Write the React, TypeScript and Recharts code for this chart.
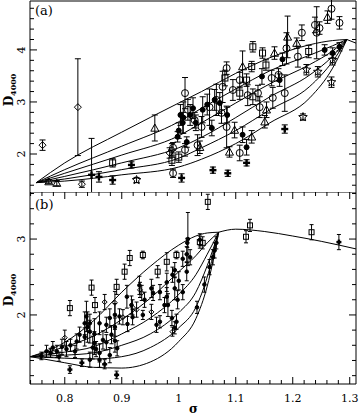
import { ComposedChart, XAxis, YAxis, Line, Scatter, ErrorBar, ReferenceLine } from 'recharts'

const X_DOMAIN: [number, number] = [0.739, 1.311]
const A_DOMAIN: [number, number] = [1.27, 4.94]
const B_DOMAIN: [number, number] = [1.09, 3.62]

const xMajor = [0.8, 0.9, 1, 1.1, 1.2, 1.3]
const aYMajor = [2, 3, 4]
const bYMajor = [2, 3]

// minor tick positions (axis decoration only)
const steps = (from: number, to: number, step: number) => {
  const out: number[] = []
  for (let v = from; v <= to + 1e-9; v += step) out.push(Math.round(v * 100) / 100)
  return out
}
const xTicks = steps(0.74, 1.3, 0.02)
const aYTicks = steps(1.4, 4.8, 0.2)
const bYTicks = steps(1.2, 3.6, 0.2)

// panel (a) model curves
const aCurveX = [0.75, 0.8, 0.9, 1.0, 1.04, 1.1, 1.16, 1.23, 1.27, 1.295]
const aCurve1 = [1.45, 1.83, 2.42, 2.98, 3.2, 3.55, 3.85, 4.1, 4.18, 4.2]
const aCurve2 = [1.45, 1.7, 2.15, 2.62, 2.88, 3.25, 3.6, 3.9, 4.08, 4.2]
const aCurve3 = [1.45, 1.63, 1.98, 2.35, 2.6, 2.98, 3.35, 3.72, 3.98, 4.2]
const aCurve4 = [1.45, 1.57, 1.83, 2.12, 2.32, 2.7, 3.1, 3.52, 3.88, 4.2]
const aCurve5 = [1.45, 1.52, 1.7, 1.92, 2.12, 2.45, 2.85, 3.3, 3.78, 4.2]
const aCurve6 = [1.45, 1.48, 1.6, 1.75, 1.9, 2.2, 2.6, 3.08, 3.65, 4.2]
const aTailX = [1.295, 1.311]
const aTailY = [4.2, 4.13]

// panel (b) model curves
const bCurveX = [0.74, 0.8, 0.85, 0.9, 0.95, 1.0, 1.03, 1.05, 1.07]
const bCurve1 = [1.45, 1.64, 1.92, 2.3, 2.64, 2.92, 3.04, 3.08, 3.09]
const bCurve2 = [1.45, 1.58, 1.72, 1.94, 2.22, 2.57, 2.78, 2.95, 3.09]
const bCurve3 = [1.45, 1.51, 1.58, 1.75, 1.96, 2.27, 2.53, 2.8, 3.09]
const bCurve4 = [1.45, 1.47, 1.5, 1.6, 1.75, 2.03, 2.3, 2.65, 3.09]
const bCurve5 = [1.45, 1.43, 1.42, 1.45, 1.57, 1.83, 2.1, 2.5, 3.09]
const bCurve6 = [1.45, 1.37, 1.31, 1.3, 1.38, 1.65, 1.95, 2.38, 3.09]
const bTailX = [1.07, 1.1, 1.15, 1.2, 1.25, 1.311]
const bTailY = [3.09, 3.13, 3.1, 3.04, 2.97, 2.87]

// panel (a) galaxies: [sigma, D4000, error]
const aDiamond = [
  [0.761, 2.17, 0.1], [0.823, 2.9, 0.93], [0.83, 1.42, 0.06], [0.984, 2.02, 0.1], [0.988, 2.08, 0.12],
]
const aTriangle = [
  [0.786, 1.44, 0.05], [0.772, 1.47, 0.04], [0.958, 2.5, 0.25], [1.191, 4.25, 0.4], [1.207, 4.13, 0.1],
  [1.168, 3.94, 0.12], [1.112, 3.68, 0.3], [1.151, 2.62, 0.12], [1.154, 2.85, 0.15], [1.098, 2.46, 0.15],
  [1.128, 2.33, 0.12], [1.037, 2.13, 0.12], [1.089, 2.04, 0.1], [1.261, 4.63, 0.12],
]
const aSquare = [
  [0.884, 1.83, 0.08], [0.988, 1.88, 0.1], [1.228, 3.97, 0.12], [1.13, 4.06, 0.1], [1.147, 3.94, 0.1],
  [1.128, 3.68, 0.1], [1.153, 3.71, 0.1], [1.13, 3.1, 0.15], [1.107, 3.17, 0.12], [1.119, 3.42, 0.12],
  [1.081, 3.46, 0.15], [1.0, 1.94, 0.1],
]
const aCircle = [
  [0.99, 1.63, 0.08], [0.99, 2.12, 0.1], [1.268, 4.79, 0.2], [1.282, 4.52, 0.12], [1.239, 4.48, 0.15],
  [1.247, 4.42, 0.12], [1.242, 4.33, 0.5], [1.216, 4.33, 0.15], [1.189, 4.03, 0.3], [1.209, 3.87, 0.2],
  [1.084, 3.65, 0.12], [1.163, 3.46, 0.15], [1.175, 3.52, 0.12], [1.165, 3.08, 0.2], [1.186, 3.17, 0.35],
  [1.142, 2.9, 0.2], [1.139, 3.17, 0.15], [1.121, 3.13, 0.2], [1.107, 3.42, 0.15], [1.095, 3.23, 0.2],
  [1.077, 3.29, 0.3], [1.028, 2.65, 0.15], [1.084, 2.52, 0.4], [1.011, 2.08, 0.12], [1.107, 2.02, 0.15],
  [1.011, 3.17, 0.3], [1.04, 2.52, 0.2], [1.066, 3.04, 0.3], [1.075, 2.79, 0.2], [1.033, 2.17, 0.2],
  [1.016, 2.85, 0.2], [1.054, 2.9, 0.35],
]
const aStar = [
  [0.926, 1.5, 0.05], [1.224, 3.62, 0.1], [1.244, 3.58, 0.1], [1.268, 3.38, 0.1], [1.218, 2.71, 0.06],
  [1.27, 3.81, 0.1],
]
const aCross = [
  [0.847, 1.6, 0.7], [0.86, 1.56, 0.1], [0.917, 1.79, 0.06], [0.884, 1.5, 0.08], [1.119, 1.83, 0.06],
  [1.06, 1.69, 0.06], [1.086, 1.63, 0.06], [1.186, 2.48, 0.08], [1.005, 1.54, 0.08],
]
const aFilled = [
  [1.282, 4.06, 0.08], [1.27, 3.94, 0.1], [1.256, 4.0, 0.1], [1.182, 3.82, 0.12], [1.146, 3.49, 0.15],
  [1.177, 3.42, 0.12], [1.063, 3.04, 0.2], [1.072, 2.98, 0.2], [1.042, 2.85, 0.25], [1.025, 2.88, 0.2],
  [1.007, 2.6, 0.2], [1.058, 2.5, 0.15], [1.112, 2.37, 0.15], [1.014, 2.23, 0.1], [1.119, 2.13, 0.15],
  [1.02, 2.75, 0.2], [1.03, 2.6, 0.15], [1.008, 2.7, 0.3], [1.05, 2.95, 0.2], [1.085, 2.75, 0.15],
  [1.0, 2.45, 0.15], [1.003, 2.75, 0.2], [0.998, 2.33, 0.1],
]

// panel (b) galaxies
const bSquare = [
  [0.809, 2.09, 0.1], [0.847, 2.36, 0.1], [0.891, 2.37, 0.1], [0.905, 2.57, 0.1], [0.914, 2.75, 0.1],
  [0.937, 2.79, 0.05], [0.963, 2.57, 0.08], [0.979, 2.7, 0.12], [0.996, 2.79, 0.05], [1.051, 3.49, 0.1],
  [1.118, 3.03, 0.08], [1.125, 3.18, 0.08], [1.233, 3.09, 0.1], [1.037, 2.96, 0.08], [1.042, 2.95, 0.08],
  [0.853, 2.13, 0.1],
]
const bDiamond = [
  [0.87, 2.17, 0.1], [0.926, 2.07, 0.1], [0.989, 1.78, 0.06], [0.8, 1.7, 0.1], [0.888, 2.16, 0.15],
  [0.935, 2.29, 0.1], [0.952, 2.04, 0.1], [0.902, 1.97, 0.1], [0.919, 2.1, 0.1], [0.932, 2.33, 0.1],
]
const bFilled = [
  [0.909, 2.24, 0.15], [0.917, 2.13, 0.12], [0.931, 2.39, 0.12], [0.94, 2.2, 0.1], [0.937, 2.0, 0.06],
  [0.952, 2.35, 0.12], [0.955, 2.29, 0.1], [0.967, 1.91, 0.08], [0.961, 1.87, 0.1], [0.979, 2.24, 0.12],
  [0.981, 2.13, 0.15], [0.988, 1.96, 0.1], [0.993, 1.83, 0.08], [0.993, 2.35, 0.15], [0.998, 2.2, 0.12],
  [0.993, 2.59, 0.1], [0.888, 2.0, 0.15], [0.896, 1.98, 0.1], [0.879, 1.96, 0.12], [0.873, 1.87, 0.1],
  [0.861, 1.89, 0.15], [0.844, 1.89, 0.12], [0.844, 1.78, 0.15], [0.835, 1.71, 0.12], [0.826, 1.74, 0.1],
  [0.821, 1.65, 0.1], [0.795, 1.58, 0.1], [0.786, 1.52, 0.08], [0.779, 1.57, 0.08], [0.768, 1.52, 0.08],
  [0.759, 1.46, 0.05], [0.818, 1.52, 0.08], [0.844, 1.41, 0.1], [0.849, 1.57, 0.15], [0.861, 1.5, 0.12],
  [0.861, 1.41, 0.1], [0.867, 1.67, 0.12], [0.873, 1.64, 0.1], [0.882, 1.74, 0.12], [0.888, 1.84, 0.12],
  [0.919, 1.97, 0.1], [0.835, 1.89, 0.15], [0.838, 1.98, 0.2], [0.84, 1.84, 0.2], [0.852, 1.63, 0.15],
  [0.852, 1.75, 0.2], [0.855, 1.55, 0.1], [0.879, 1.47, 0.1], [0.888, 1.66, 0.15], [0.892, 1.56, 0.1],
  [0.81, 1.6, 0.08], [0.803, 1.55, 0.1], [0.775, 1.5, 0.06], [0.79, 1.45, 0.06], [1.016, 3.0, 0.35],
  [1.007, 2.74, 0.1], [1.014, 2.8, 0.1], [1.02, 2.76, 0.1], [1.014, 2.57, 0.12], [1.007, 2.3, 0.1],
  [1.037, 2.99, 0.08], [0.979, 2.43, 0.12], [0.989, 2.53, 0.1], [0.975, 2.13, 0.1], [1.032, 2.1, 0.08],
  [1.054, 2.63, 0.1], [1.06, 2.76, 0.1], [1.063, 2.85, 0.1], [1.066, 2.95, 0.08], [1.0, 2.45, 0.12],
  [0.967, 2.3, 0.1], [0.91, 1.88, 0.1], [0.996, 1.91, 0.1], [1.015, 2.95, 0.06], [1.045, 2.4, 0.1],
]
const bCross = [
  [0.809, 1.28, 0.05], [0.891, 1.21, 0.05], [0.83, 1.37, 0.05], [1.281, 2.96, 0.1], [0.87, 1.35, 0.06],
]

const FONT = "'DejaVu Serif', 'Liberation Serif', serif"
const PLOT_W = 326
const A_H = 191
const B_H = 192

const toPts = (rows: number[][]) => rows.map(([x, y, e]) => ({ x, y, e }))
const toCurve = (xs: number[], ys: number[]) => xs.map((x, i) => ({ x, y: ys[i] }))
const isIn = (v: number, list: number[]) => list.some((m) => Math.abs(m - v) < 1e-6)

function XTick(props: any) {
  const { x, y, payload, plotH, showLabel } = props
  const v = payload.value
  const major = isIn(v, xMajor)
  const len = major ? 7 : 4
  return (
    <g>
      <line x1={x} y1={y} x2={x} y2={y - len} stroke="#000" />
      <line x1={x} y1={y - plotH} x2={x} y2={y - plotH + len} stroke="#000" />
      {showLabel && major && (
        <text x={x} y={y + 18} textAnchor="middle" fontSize={11} fontFamily={FONT} fill="#000">
          {String(Number(v.toFixed(1)))}
        </text>
      )}
    </g>
  )
}

function YTick(props: any) {
  const { x, y, payload, majors } = props
  const v = payload.value
  const major = isIn(v, majors)
  const len = major ? 7 : 4
  const lx = x - 8
  return (
    <g>
      <line x1={x} y1={y} x2={x + len} y2={y} stroke="#000" />
      <line x1={x + PLOT_W} y1={y} x2={x + PLOT_W - len} y2={y} stroke="#000" />
      {major && (
        <text
          x={lx}
          y={y}
          textAnchor="middle"
          dominantBaseline="central"
          fontSize={11}
          fontFamily={FONT}
          fill="#000"
          transform={`rotate(-90 ${lx} ${y})`}
        >
          {String(v)}
        </text>
      )}
    </g>
  )
}

function Sym({ cx, cy, kind, s }: { cx: number; cy: number; kind: string; s: number }) {
  if (cx == null || cy == null) return <g />
  switch (kind) {
    case 'square':
      return <rect x={cx - s} y={cy - s} width={2 * s} height={2 * s} fill="none" stroke="#000" />
    case 'diamond':
      return (
        <polygon points={`${cx},${cy - s} ${cx + s},${cy} ${cx},${cy + s} ${cx - s},${cy}`} fill="none" stroke="#000" />
      )
    case 'triangle':
      return (
        <polygon points={`${cx},${cy - s} ${cx + s},${cy + s * 0.8} ${cx - s},${cy + s * 0.8}`} fill="none" stroke="#000" />
      )
    case 'star': {
      const pts: string[] = []
      for (let i = 0; i < 10; i++) {
        const r = i % 2 === 0 ? s : s * 0.45
        const a = -Math.PI / 2 + (i * Math.PI) / 5
        pts.push(`${cx + r * Math.cos(a)},${cy + r * Math.sin(a)}`)
      }
      return <polygon points={pts.join(' ')} fill="none" stroke="#000" />
    }
    case 'cross':
      return (
        <g fill="#000">
          <rect x={cx - s} y={cy - 1.2} width={2 * s} height={2.4} />
          <rect x={cx - 1.2} y={cy - s} width={2.4} height={2 * s} />
        </g>
      )
    case 'filled':
      return <circle cx={cx} cy={cy} r={s} fill="#000" stroke="#000" />
    default:
      return <circle cx={cx} cy={cy} r={s} fill="none" stroke="#000" />
  }
}

const series = (name: string, rows: number[][], kind: string, s: number, cap: number) => (
  <Scatter
    key={name}
    name={name}
    data={toPts(rows)}
    dataKey="y"
    isAnimationActive={false}
    shape={(p: any) => <Sym cx={p.cx} cy={p.cy} kind={kind} s={s} />}
  >
    <ErrorBar dataKey="e" direction="y" width={cap} stroke="#000" strokeWidth={1} />
  </Scatter>
)

const curve = (name: string, xs: number[], ys: number[]) => (
  <Line
    key={name}
    data={toCurve(xs, ys)}
    dataKey="y"
    type="monotone"
    stroke="#000"
    strokeWidth={1}
    dot={false}
    activeDot={false}
    isAnimationActive={false}
  />
)

const dLabel = (top: number) => (
  <div
    style={{
      position: 'absolute',
      left: 10,
      top,
      transform: 'translate(-50%, -50%) rotate(-90deg)',
      fontFamily: FONT,
      fontSize: 12,
      fontWeight: 'bold',
      whiteSpace: 'nowrap',
    }}
  >
    D<sub style={{ fontSize: 8 }}>4000</sub>
  </div>
)

export default function App() {
  return (
    <div style={{ position: 'absolute', left: 0, top: 0, width: 359, height: 418, background: '#fff' }}>
      <div style={{ position: 'absolute', left: 0, top: 0 }}>
        <ComposedChart width={359} height={192} margin={{ top: 1, right: 3, bottom: 0, left: 0 }}>
          <XAxis
            type="number"
            dataKey="x"
            domain={X_DOMAIN}
            allowDataOverflow
            ticks={xTicks}
            interval={0}
            height={0}
            tickSize={0}
            tickMargin={0}
            tickLine={false}
            axisLine={{ stroke: '#000' }}
            tick={(p: any) => <XTick {...p} plotH={A_H} showLabel={false} />}
          />
          <YAxis
            type="number"
            dataKey="y"
            domain={A_DOMAIN}
            allowDataOverflow
            ticks={aYTicks}
            interval={0}
            width={30}
            tickSize={0}
            tickMargin={0}
            tickLine={false}
            axisLine={{ stroke: '#000' }}
            tick={(p: any) => <YTick {...p} majors={aYMajor} />}
          />
          <ReferenceLine x={X_DOMAIN[1]} stroke="#000" />
          <ReferenceLine y={A_DOMAIN[1]} stroke="#000" />
          {curve('a1', aCurveX, aCurve1)}
          {curve('a2', aCurveX, aCurve2)}
          {curve('a3', aCurveX, aCurve3)}
          {curve('a4', aCurveX, aCurve4)}
          {curve('a5', aCurveX, aCurve5)}
          {curve('a6', aCurveX, aCurve6)}
          {curve('at', aTailX, aTailY)}
          {series('aDiamond', aDiamond, 'diamond', 3.5, 3)}
          {series('aTriangle', aTriangle, 'triangle', 4, 3)}
          {series('aSquare', aSquare, 'square', 3, 3)}
          {series('aCircle', aCircle, 'circle', 3.5, 3)}
          {series('aStar', aStar, 'star', 4.5, 3)}
          {series('aCross', aCross, 'cross', 3.5, 3)}
          {series('aFilled', aFilled, 'filled', 2.5, 3)}
        </ComposedChart>
      </div>
      <div style={{ position: 'absolute', left: 0, top: 192 }}>
        <ComposedChart width={359} height={226} margin={{ top: 0, right: 3, bottom: 0, left: 0 }}>
          <XAxis
            type="number"
            dataKey="x"
            domain={X_DOMAIN}
            allowDataOverflow
            ticks={xTicks}
            interval={0}
            height={34}
            tickSize={0}
            tickMargin={0}
            tickLine={false}
            axisLine={{ stroke: '#000' }}
            tick={(p: any) => <XTick {...p} plotH={B_H} showLabel />}
          />
          <YAxis
            type="number"
            dataKey="y"
            domain={B_DOMAIN}
            allowDataOverflow
            ticks={bYTicks}
            interval={0}
            width={30}
            tickSize={0}
            tickMargin={0}
            tickLine={false}
            axisLine={{ stroke: '#000' }}
            tick={(p: any) => <YTick {...p} majors={bYMajor} />}
          />
          <ReferenceLine x={X_DOMAIN[1]} stroke="#000" />
          <ReferenceLine y={B_DOMAIN[1]} stroke="#000" />
          {curve('b1', bCurveX, bCurve1)}
          {curve('b2', bCurveX, bCurve2)}
          {curve('b3', bCurveX, bCurve3)}
          {curve('b4', bCurveX, bCurve4)}
          {curve('b5', bCurveX, bCurve5)}
          {curve('b6', bCurveX, bCurve6)}
          {curve('bt', bTailX, bTailY)}
          {series('bSquare', bSquare, 'square', 2.5, 2)}
          {series('bDiamond', bDiamond, 'diamond', 2.5, 2)}
          {series('bFilled', bFilled, 'filled', 1.8, 2)}
          {series('bCross', bCross, 'cross', 2.5, 2)}
        </ComposedChart>
      </div>
      <div style={{ position: 'absolute', left: 35, top: 3, fontFamily: FONT, fontSize: 13 }}>(a)</div>
      <div style={{ position: 'absolute', left: 35, top: 197, fontFamily: FONT, fontSize: 13 }}>(b)</div>
      {dLabel(90)}
      {dLabel(290)}
      <div
        style={{
          position: 'absolute',
          left: 189,
          top: 403,
          fontFamily: FONT,
          fontSize: 12,
          lineHeight: '12px',
          fontWeight: 'bold',
        }}
      >
        σ
      </div>
    </div>
  )
}
